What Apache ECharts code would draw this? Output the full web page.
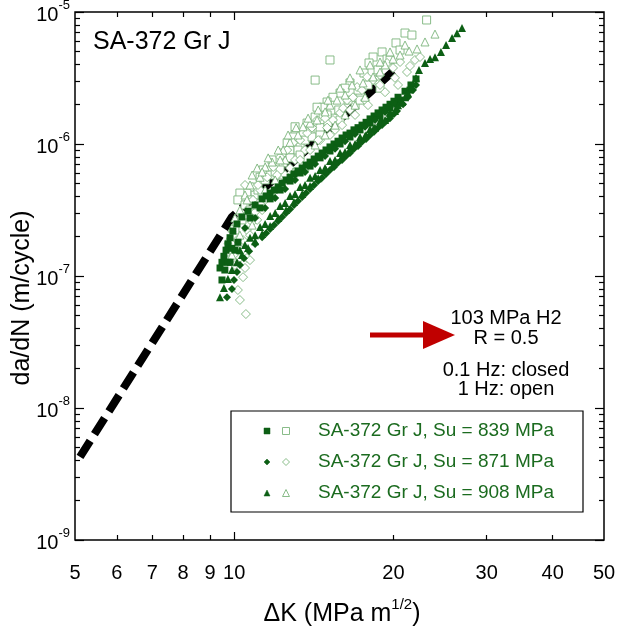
<!DOCTYPE html>
<html>
<head>
<meta charset="utf-8">
<script src="https://cdn.jsdelivr.net/npm/echarts@6/dist/echarts.min.js"></script>
<style>
html,body{margin:0;padding:0;background:#fff;}
#chart{width:618px;height:629px;}
</style>
</head>
<body>
<div id="chart"></div>
<script>
// ---------- data ----------
const xTickLabels = [5, 6, 7, 8, 9, 10, 20, 30, 40, 50];
const xMajorTicks = [10];
const xMinorTicks = [6, 7, 8, 9, 20, 30, 40];
const yDecades = [-9, -8, -7, -6, -5];
const yMinorMultipliers = [2, 3, 4, 5, 6, 7, 8, 9];

const seriesNames = ['SA-372 Gr J, Su = 839 MPa', 'SA-372 Gr J, Su = 871 MPa', 'SA-372 Gr J, Su = 908 MPa'];

// black dashed reference curve
const refCurve = [[5.11, 4.26e-9], [9.9, 2.8e-7], [20.0, 3.57e-6]];

// 0.1 Hz (closed symbols)
const closed839 = [
 [9.40,1.15e-7],[9.48,1.27e-7],[9.56,1.41e-7],[9.65,1.57e-7],[9.73,1.75e-7],[9.82,1.95e-7],[9.94,2.19e-7],
 [10.12,2.48e-7],[10.34,2.80e-7],[10.62,3.10e-7],[10.95,3.45e-7],[11.29,3.84e-7],[11.69,4.25e-7],[12.11,4.72e-7],
 [12.53,5.34e-7],[12.97,5.93e-7],[13.44,6.58e-7],[13.91,7.29e-7],[14.41,8.1e-7],[14.91,9.01e-7],[15.44,1.0e-6],
 [15.99,1.11e-6],[16.55,1.21e-6],[17.14,1.33e-6],[17.75,1.46e-6],[18.38,1.63e-6],[19.03,1.81e-6],[19.70,2.0e-6],
 [20.40,2.26e-6],[21.03,2.51e-6],[21.58,2.80e-6],[22.06,3.11e-6],
 [10.71,2.75e-7],[11.19,3.28e-7],[11.69,3.84e-7],[12.21,4.48e-7],[12.75,5.24e-7],[13.32,6.03e-7],[13.91,6.8e-7],
 [14.53,7.85e-7],[15.17,8.85e-7],[15.85,1.0e-6],[16.55,1.13e-6],[17.29,1.28e-6],[18.06,1.44e-6],[18.86,1.63e-6],
 [19.70,1.88e-6],[20.58,2.15e-6],[21.49,2.56e-6],
 [11.49,4.04e-7],[11.90,4.48e-7],[12.32,5.05e-7],[12.75,5.6e-7],[13.20,6.25e-7],[13.67,6.93e-7],[14.16,7.7e-7],
 [14.66,8.55e-7],[15.17,9.5e-7],[15.71,1.05e-6],[16.27,1.17e-6],[16.84,1.28e-6],[17.44,1.39e-6],[18.06,1.55e-6],
 [18.70,1.72e-6],[19.36,1.90e-6],[20.04,2.11e-6],
 [9.60,1.11e-7],[9.82,1.27e-7],[10.03,1.57e-7],[10.16,1.80e-7],[9.90,1.62e-7],[9.73,1.27e-7],[9.48,9.33e-8]
];
const closed871 = [
 [9.69,6.9e-8],[9.90,7.98e-8],[9.99,9.33e-8],[10.12,1.07e-7],[10.25,1.21e-7],[10.43,1.36e-7],[10.67,1.54e-7],
 [10.95,1.75e-7],[11.29,1.97e-7],[11.69,2.27e-7],[12.11,2.61e-7],[12.53,3.0e-7],[12.97,3.45e-7],[13.44,3.96e-7],
 [13.91,4.56e-7],[14.41,5.24e-7],[14.91,5.93e-7],[15.44,6.7e-7],[15.99,7.57e-7],[16.55,8.55e-7],[17.14,9.66e-7],
 [17.75,1.09e-6],[18.38,1.24e-6],[19.03,1.39e-6],[19.70,1.57e-6],[20.31,1.78e-6],[20.85,2.0e-6],[21.30,2.26e-6],
 [21.77,2.56e-6],[22.06,2.80e-6],
 [10.48,2.31e-7],[10.95,2.75e-7],[11.44,3.28e-7],[11.95,3.90e-7],[12.48,4.56e-7],[13.03,5.34e-7],[13.61,6.14e-7],
 [14.22,7.05e-7],[14.85,8.1e-7],[15.51,9.2e-7],[16.20,1.05e-6],[16.92,1.19e-6],[17.67,1.35e-6],[18.46,1.52e-6],
 [19.28,1.75e-6],[20.13,2.0e-6],
 [11.49,2.11e-7],[11.90,2.43e-7],[12.32,2.80e-7],[12.75,3.21e-7],[13.20,3.70e-7],[13.67,4.25e-7],[14.16,4.89e-7],
 [14.66,5.55e-7],[15.17,6.36e-7],[15.71,7.2e-7],[16.27,8.1e-7],[16.84,9.2e-7],[17.44,1.04e-6],[18.06,1.17e-6],
 [18.70,1.33e-6],[19.36,1.49e-6],[20.04,1.69e-6]
];
const closed908 = [
 [9.40,6.9e-8],[9.56,8.1e-8],[9.73,9.5e-8],[9.90,1.11e-7],[10.12,1.27e-7],[10.34,1.44e-7],[10.62,1.63e-7],
 [10.95,1.83e-7],[11.29,2.08e-7],[11.69,2.39e-7],[12.11,2.75e-7],[12.53,3.16e-7],[12.97,3.63e-7],[13.44,4.18e-7],
 [13.91,4.80e-7],[14.41,5.5e-7],[14.91,6.36e-7],[15.44,7.2e-7],[15.99,8.1e-7],[16.55,9.2e-7],[17.14,1.03e-6],
 [17.75,1.17e-6],[18.38,1.33e-6],[19.03,1.49e-6],[19.70,1.72e-6],[20.40,1.97e-6],[21.03,2.26e-6],[21.58,2.65e-6],
 [22.06,3.17e-6],[22.35,3.64e-6],[22.94,4.1e-6],[23.45,4.4e-6],[23.96,4.55e-6],[24.59,4.97e-6],[25.14,5.62e-6],
 [25.81,6.35e-6],[26.37,6.9e-6],[26.95,7.55e-6],
 [10.25,1.57e-7],[10.71,1.95e-7],[11.19,2.35e-7],[11.69,2.85e-7],[12.21,3.39e-7],[12.75,4.04e-7],[13.32,4.72e-7],
 [13.91,5.55e-7],[14.53,6.36e-7],[15.17,7.43e-7],[15.85,8.55e-7],[16.55,9.83e-7],[17.29,1.13e-6],[18.06,1.30e-6],
 [18.86,1.49e-6],[19.70,1.75e-6],[20.58,2.05e-6],
 [10.48,1.72e-7],[10.95,2.04e-7],[11.44,2.48e-7],[11.95,3.0e-7],[12.48,3.57e-7],[13.03,4.18e-7],[13.61,4.89e-7],
 [14.22,5.72e-7],[14.85,6.58e-7],[15.51,7.57e-7],[16.20,8.7e-7],[16.92,1.0e-6],[17.67,1.15e-6],[18.46,1.33e-6],
 [19.28,1.52e-6],[20.13,1.78e-6],[20.76,2.08e-6],[21.30,2.43e-6]
];

// 1 Hz (open symbols)
const open839 = [
 [23.1,8.7e-6],[21.03,6.93e-6],[21.67,6.69e-6],[20.22,5.83e-6],[19.03,4.98e-6],[18.30,4.56e-6],[19.45,4.40e-6],
 [17.98,4.11e-6],[17.59,3.45e-6],[15.17,4.33e-6],[16.55,2.90e-6],[16.20,2.65e-6],[15.85,2.43e-6],[15.37,2.26e-6],
 [14.98,2.08e-6],[14.72,1.90e-6],[14.22,3.05e-6],[14.34,1.90e-6],[13.73,1.44e-6],[13.03,1.35e-6],[13.03,1.17e-6],
 [12.59,1.02e-6],[12.32,8.55e-7],[11.79,7.57e-7],[11.34,6.36e-7],[10.85,4.72e-7],[10.57,4.25e-7],[10.25,4.25e-7],
 [10.16,3.77e-7],[10.48,3.45e-7],[12.92,1.13e-6],[13.32,9.5e-7],[12.05,6.7e-7],[11.19,5.6e-7],[15.51,1.57e-6],
 [14.98,1.66e-6],[14.22,1.60e-6],[17.29,2.35e-6],[18.46,3.05e-6],[16.92,1.97e-6],[13.91,1.28e-6],[12.75,9.0e-7],
 [11.69,5.82e-7],[10.95,4.11e-7],[10.71,3.16e-7],[10.34,2.66e-7],[10.03,2.23e-7],
 [10.71,3.77e-7],[11.09,4.48e-7],[11.44,5.34e-7],[11.95,6.14e-7],[12.37,7.2e-7],[12.75,7.85e-7],[13.20,9.0e-7],
 [13.61,1.07e-6],[14.03,1.13e-6],[14.53,1.33e-6],[15.04,1.46e-6],[15.76,1.81e-6],[16.41,2.15e-6],[17.14,2.56e-6],
 [17.90,2.80e-6],[18.70,3.64e-6],[19.70,4.33e-6],[20.58,5.15e-6],[11.29,4.11e-7],[12.21,6.36e-7],[13.32,8.25e-7],
 [14.53,1.17e-6],[15.85,1.52e-6],[17.29,2.15e-6],[18.86,2.65e-6]
];
const open871 = [
 [10.52,5.15e-8],[10.16,7.83e-8],[10.39,9.8e-8],[10.48,1.15e-7],[10.57,1.37e-7],[10.16,1.57e-7],[10.39,1.87e-7],
 [10.57,2.23e-7],[10.81,2.56e-7],[10.95,3.05e-7],[10.85,3.77e-7],[11.19,4.48e-7],[10.48,4.89e-7],[10.81,4.72e-7],
 [11.09,4.89e-7],[11.54,5.6e-7],[11.85,6.7e-7],[12.05,5.82e-7],[12.21,7.97e-7],[12.59,9.0e-7],[12.92,1.02e-6],
 [13.32,1.07e-6],[13.73,1.21e-6],[14.03,1.33e-6],[14.34,1.52e-6],[14.85,1.57e-6],[14.98,1.33e-6],[15.37,1.52e-6],
 [15.85,1.72e-6],[16.34,2.15e-6],[16.77,2.26e-6],[16.06,1.87e-6],[17.07,2.70e-6],[17.44,2.56e-6],[17.83,3.22e-6],
 [18.30,3.05e-6],[18.86,3.33e-6],[19.45,4.11e-6],[19.96,3.77e-6],[20.58,4.18e-6],[21.21,3.51e-6],[21.49,3.90e-6],
 [21.96,4.33e-6],[22.45,4.56e-6],[11.44,3.77e-7],[11.95,4.48e-7],[12.48,5.82e-7],[13.03,7.57e-7],[13.61,9.0e-7],
 [14.53,1.07e-6],[15.51,1.28e-6],[16.55,1.81e-6],[17.67,2.15e-6],[18.86,2.80e-6],[20.13,3.17e-6],
 [10.03,1.21e-7],[10.25,1.37e-7],[10.12,1.87e-7],[10.34,1.57e-7],[10.71,2.04e-7],[11.05,2.66e-7],[11.29,3.16e-7],
 [11.69,4.11e-7],[12.21,5.14e-7],[12.75,6.58e-7],[13.32,7.57e-7],[13.91,9.0e-7],[14.41,1.07e-6],[15.17,1.17e-6],
 [15.99,1.39e-6],[16.92,1.66e-6],[17.90,1.97e-6],[19.28,2.47e-6],[20.40,2.80e-6],[10.71,1.32e-7],[10.25,6.58e-8]
];
const open908 = [
 [23.96,6.8e-6],[22.94,5.93e-6],[22.16,5.25e-6],[21.40,5.06e-6],[20.58,4.72e-6],[19.96,4.40e-6],[19.28,3.97e-6],
 [18.86,3.51e-6],[18.30,3.22e-6],[17.52,2.90e-6],[16.70,2.80e-6],[16.20,2.35e-6],[15.64,2.15e-6],[15.17,1.97e-6],
 [14.85,1.75e-6],[14.34,1.52e-6],[13.91,1.44e-6],[13.49,1.35e-6],[13.20,1.17e-6],[12.75,1.03e-6],[12.37,9.0e-7],
 [11.79,7.3e-7],[11.44,6.7e-7],[11.05,6.58e-7],[11.19,5.6e-7],[10.71,4.89e-7],[10.48,4.11e-7],[10.57,3.77e-7],
 [10.25,3.16e-7],[10.03,2.75e-7],[9.90,2.31e-7],[9.73,1.87e-7],[9.65,1.52e-7],[12.92,6.14e-7],[13.61,6.7e-7],
 [14.22,9.83e-7],[14.85,1.17e-6],[15.51,1.39e-6],[16.20,1.66e-6],[16.92,1.97e-6],[17.67,2.26e-6],[12.48,7.57e-7],
 [11.95,5.34e-7],[10.95,3.45e-7],[10.25,2.04e-7],[9.90,1.44e-7],
 [10.81,5.82e-7],[11.29,6.14e-7],[11.59,7.85e-7],[12.11,9.0e-7],[12.64,1.17e-6],[13.09,1.33e-6],[13.79,1.57e-6],
 [14.41,1.81e-6],[15.04,2.15e-6],[15.85,2.65e-6],[16.55,3.17e-6],[17.29,3.64e-6],[18.06,3.97e-6],[18.86,4.18e-6],
 [19.70,4.98e-6],[21.03,5.62e-6],[10.48,2.90e-7],[10.81,2.43e-7],[11.44,4.48e-7],[12.21,7.57e-7]
];

// ---------- styling ----------
const FILL = '#0c5f14';
const OPEN = '#7cb47c';
const TEXTGREEN = '#1b6b1f';
const FONT = '"Liberation Sans", Arial, Helvetica, sans-serif';

const lg = v => Math.log10(v);
const xMin = lg(xTickLabels[0]), xMax = lg(xTickLabels[xTickLabels.length - 1]);
const yMin = yDecades[0], yMax = yDecades[yDecades.length - 1];
const yMinor = [];
yDecades.slice(0, -1).forEach(d => yMinorMultipliers.forEach(m => yMinor.push(d + lg(m))));

function tickAxis(pos, isX, ticks, len, labels) {
  const a = {
    type: 'value', gridIndex: 0, position: pos,
    min: isX ? xMin : yMin, max: isX ? xMax : yMax,
    axisLine: { show: false, onZero: false },
    splitLine: { show: false },
    axisTick: { show: true, inside: true, length: len, customValues: ticks,
                lineStyle: { color: '#000', width: 1.2 } },
    axisLabel: { show: false }
  };
  if (labels) a.axisLabel = labels;
  return a;
}

const xAxes = [
  { type: 'log', logBase: 10, gridIndex: 0, min: 5, max: 50, position: 'bottom',
    axisLine: { show: false, onZero: false }, axisTick: { show: false }, axisLabel: { show: false },
    splitLine: { show: false } },
  tickAxis('bottom', true, xMajorTicks.map(lg), 8, {
    show: true, customValues: xTickLabels.map(lg), margin: 23,
    fontFamily: FONT, fontSize: 20, color: '#000',
    formatter: v => String(Math.round(Math.pow(10, v))) }),
  tickAxis('bottom', true, xMinorTicks.map(lg), 5),
  tickAxis('top', true, xMajorTicks.map(lg), 8),
  tickAxis('top', true, xMinorTicks.map(lg), 5)
];
const yAxes = [
  { type: 'log', logBase: 10, gridIndex: 0, min: Math.pow(10, yMin), max: Math.pow(10, yMax), position: 'left',
    axisLine: { show: false, onZero: false }, axisTick: { show: false }, axisLabel: { show: false },
    splitLine: { show: false } },
  tickAxis('left', false, yDecades, 9, {
    show: true, customValues: yDecades, margin: 5,
    formatter: v => '{b|10}{s|' + Math.round(v) + '}',
    rich: {
      b: { fontFamily: FONT, fontSize: 20, color: '#000', lineHeight: 26, verticalAlign: 'bottom' },
      s: { fontFamily: FONT, fontSize: 13, color: '#000', lineHeight: 26, verticalAlign: 'top' }
    } }),
  tickAxis('left', false, yMinor, 5),
  tickAxis('right', false, yDecades, 9),
  tickAxis('right', false, yMinor, 5)
];

function scatter(name, data, symbol, size, filled, z) {
  return {
    type: 'scatter', name: name, data: data, xAxisIndex: 0, yAxisIndex: 0,
    symbol: symbol, symbolSize: size, z: z,
    itemStyle: filled ? { color: FILL, opacity: 1 } : { color: '#fff', borderColor: OPEN, borderWidth: 0.9, opacity: 1 },
    emphasis: { disabled: true }, silent: true
  };
}

// ---------- legend / annotation graphics ----------
const legendRowsY = [431, 462, 493];
const legendSymbols = ['rect', 'diamond', 'triangle'];
function gSym(kind, cx, cy, s, filled) {
  const style = filled ? { fill: FILL, stroke: FILL, lineWidth: 0.5 } : { fill: '#fff', stroke: OPEN, lineWidth: 0.9 };
  const h = s / 2;
  if (kind === 'rect') return { type: 'rect', shape: { x: cx - h, y: cy - h, width: s, height: s }, style: style, z: 100 };
  if (kind === 'diamond') return { type: 'polygon', shape: { points: [[cx, cy - h], [cx + h, cy], [cx, cy + h], [cx - h, cy]] }, style: style, z: 100 };
  return { type: 'polygon', shape: { points: [[cx, cy - h], [cx + h, cy + h], [cx - h, cy + h]] }, style: style, z: 100 };
}
const graphics = [
  { type: 'text', left: 93, top: 30, z: 100,
    style: { text: 'SA-372 Gr J', fontFamily: FONT, fontSize: 25, fill: '#000' } },
  { type: 'text', x: 22, y: 298, rotation: Math.PI / 2, z: 100,
    style: { text: 'da/dN (m/cycle)', fontFamily: FONT, fontSize: 25, fill: '#000', align: 'center', verticalAlign: 'middle' } },
  { type: 'text', x: 342, y: 612, z: 100,
    style: { text: '{m|ΔK (MPa m}{s|1/2}{m|)}', fontFamily: FONT, fill: '#000', align: 'center', verticalAlign: 'middle',
      rich: { m: { fontFamily: FONT, fontSize: 25, fill: '#000', lineHeight: 30, verticalAlign: 'bottom' },
              s: { fontFamily: FONT, fontSize: 15, fill: '#000', lineHeight: 30, verticalAlign: 'top' } } } },
  { type: 'rect', shape: { x: 231, y: 411, width: 352, height: 101 }, z: 90,
    style: { fill: '#fff', stroke: '#000', lineWidth: 1.2 } },
  { type: 'line', shape: { x1: 370, y1: 335, x2: 428, y2: 335 }, z: 100,
    style: { stroke: '#c00000', lineWidth: 5 } },
  { type: 'polygon', shape: { points: [[423, 321], [455, 335], [423, 349]] }, z: 100,
    style: { fill: '#c00000' } }
];
const annot = [['103 MPa H2', 318], ['R = 0.5', 338], ['0.1 Hz: closed', 370], ['1 Hz: open', 389]];
annot.forEach(a => graphics.push({ type: 'text', x: 506, y: a[1], z: 100,
  style: { text: a[0], fontFamily: FONT, fontSize: 20, fill: '#000', align: 'center', verticalAlign: 'middle' } }));
seriesNames.forEach((n, i) => {
  graphics.push(gSym(legendSymbols[i], 267, legendRowsY[i], 6, true));
  graphics.push(gSym(legendSymbols[i], 286, legendRowsY[i], 7, false));
  graphics.push({ type: 'text', x: 318, y: legendRowsY[i], z: 100,
    style: { text: n, fontFamily: FONT, fontSize: 19, fill: TEXTGREEN, verticalAlign: 'middle' } });
});

const chart = echarts.init(document.getElementById('chart'), null, { renderer: 'canvas' });
chart.setOption({
  animation: false,
  backgroundColor: '#fff',
  grid: { left: 75, right: 14, top: 12, bottom: 89, outerBoundsMode: 'none', containLabel: false,
          show: true, borderColor: '#000', borderWidth: 1.5, backgroundColor: 'transparent' },
  xAxis: xAxes,
  yAxis: yAxes,
  graphic: graphics,
  series: [
    { type: 'line', data: refCurve, xAxisIndex: 0, yAxisIndex: 0, showSymbol: false, symbol: 'none', z: 1,
      lineStyle: { color: '#000', width: 8, type: [19, 8], cap: 'butt' }, silent: true },
    scatter(seriesNames[0] + ' open', open839, 'rect', 8, false, 2),
    scatter(seriesNames[1] + ' open', open871, 'diamond', 9, false, 2),
    scatter(seriesNames[2] + ' open', open908, 'triangle', 8, false, 2),
    scatter(seriesNames[0], closed839, 'rect', 7, true, 3),
    scatter(seriesNames[1], closed871, 'diamond', 8, true, 3),
    scatter(seriesNames[2], closed908, 'triangle', 8, true, 3)
  ]
});
</script>
</body>
</html>
